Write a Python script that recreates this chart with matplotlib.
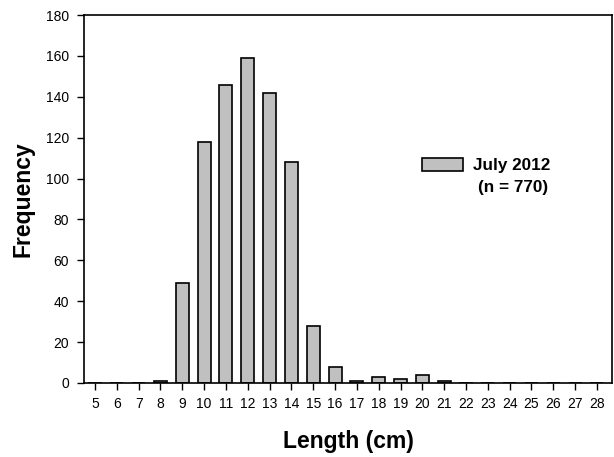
import matplotlib.pyplot as plt

plt.rcParams['font.family'] = ['Liberation Sans', 'DejaVu Sans']

lengths = list(range(5, 29))
counts = [0, 0, 0, 1, 49, 118, 146, 159, 142, 108, 28, 8, 1, 3, 2, 4, 1,
          0, 0, 0, 0, 0, 0, 0]
series_name = "July 2012"
n_note = "(n = 770)"

fig = plt.figure(figsize=(6.14, 4.57), dpi=100)
ax = fig.add_axes([0.137, 0.162, 0.86, 0.805])

ax.bar(lengths, counts, width=0.6, color='#c0c0c0', edgecolor='black',
       linewidth=1.2, label=series_name)

ax.set_xlim(4.5, 28.7)
ax.set_ylim(0, 180)
ax.set_xticks(lengths)
ax.set_yticks(range(0, 181, 20))
ax.tick_params(axis='both', direction='out', length=5, width=1, labelsize=10)
ax.tick_params(axis='x', pad=5)
ax.tick_params(axis='y', pad=6)
for s in ax.spines.values():
    s.set_linewidth(1.2)

ax.set_xlabel('Length (cm)', fontsize=16.5, fontweight='bold', labelpad=14)
ax.set_ylabel('Frequency', fontsize=16.5, fontweight='bold', labelpad=8)

# legend box plus the sample size line underneath
ax.legend(loc='center left', bbox_to_anchor=(0.64, 0.59), frameon=False,
          borderpad=0, borderaxespad=0, handlelength=2.4, handleheight=0.72,
          handletextpad=0.6, prop={'weight': 'bold', 'size': 12.3})
ax.text(25.77, 95.4, n_note, ha='right', va='center', fontsize=12.3,
        fontweight='bold')

fig.savefig('out.png', dpi=100)
